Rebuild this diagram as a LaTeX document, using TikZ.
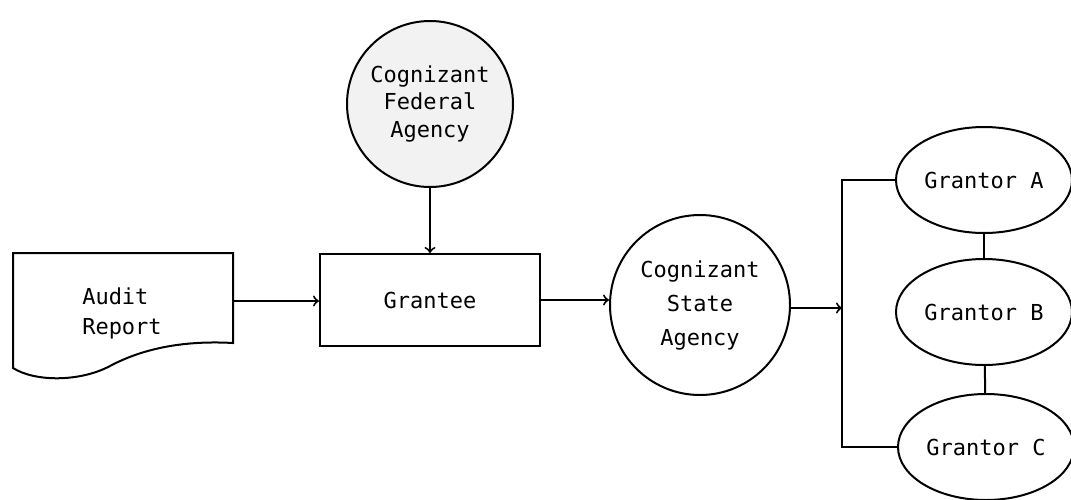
\documentclass[tikz,border=0pt]{standalone}
\usepackage{fontspec}
\setmonofont{DejaVu Sans Mono}
\usetikzlibrary{shapes}
\usetikzlibrary{arrows}

\begin{document}
\begin{tikzpicture}[x=0.5pt,y=-0.5pt,line width=1pt]
			\tikzstyle{every node}=[font=\ttfamily\fontsize{11}{14}\selectfont]
			\tikzstyle{agency}=[circle,draw,align=center,inner sep=0pt]
			\tikzstyle{grantor}=[ellipse,draw,minimum width=88pt,minimum height=53pt,inner sep=0pt]
			\tikzstyle{flow}=[->,>=to]
			\useasboundingbox (0,0) rectangle (1071,499);

			\node[agency,minimum size=83pt,fill=black!5] (federal) at (430,104) {Cognizant\\Federal\\Agency};
			\node[draw,minimum width=110pt,minimum height=46pt] (grantee) at (430,300) {Grantee};
			\node[agency,minimum size=90pt] (state) at (700,305) {Cognizant\\[3pt]State\\[3pt]Agency};
			\node[grantor] (grA) at (984,180) {Grantor A};
			\node[grantor] (grB) at (984,312) {Grantor B};
			\node[grantor] (grC) at (986,447) {Grantor C};

			% audit report sheet
			\draw (13,253) -- (233,253) -- (233,343)
				.. controls (180,340) and (140,350) .. (110,366)
				.. controls (80,382) and (35,382) .. (13,368) -- cycle;
			\node[align=left] (audit) at (122,313) {Audit\\[1pt]Report};
			\coordinate (auditR) at (233,301);
			\coordinate (bus) at (842,308);

			\draw[flow] (federal) -- (grantee);
			\draw[flow] (auditR) -- (auditR -| grantee.west);
			\draw[flow] (grantee.east) -- (grantee.east -| state.west);
			\draw[flow] (state.east |- bus) -- (bus);
			\draw (grA.west) -| (bus) |- (grC.west);
			\draw (grA) -- (grB);
			\draw (grB) -- (grC);
\end{tikzpicture}
\end{document}
